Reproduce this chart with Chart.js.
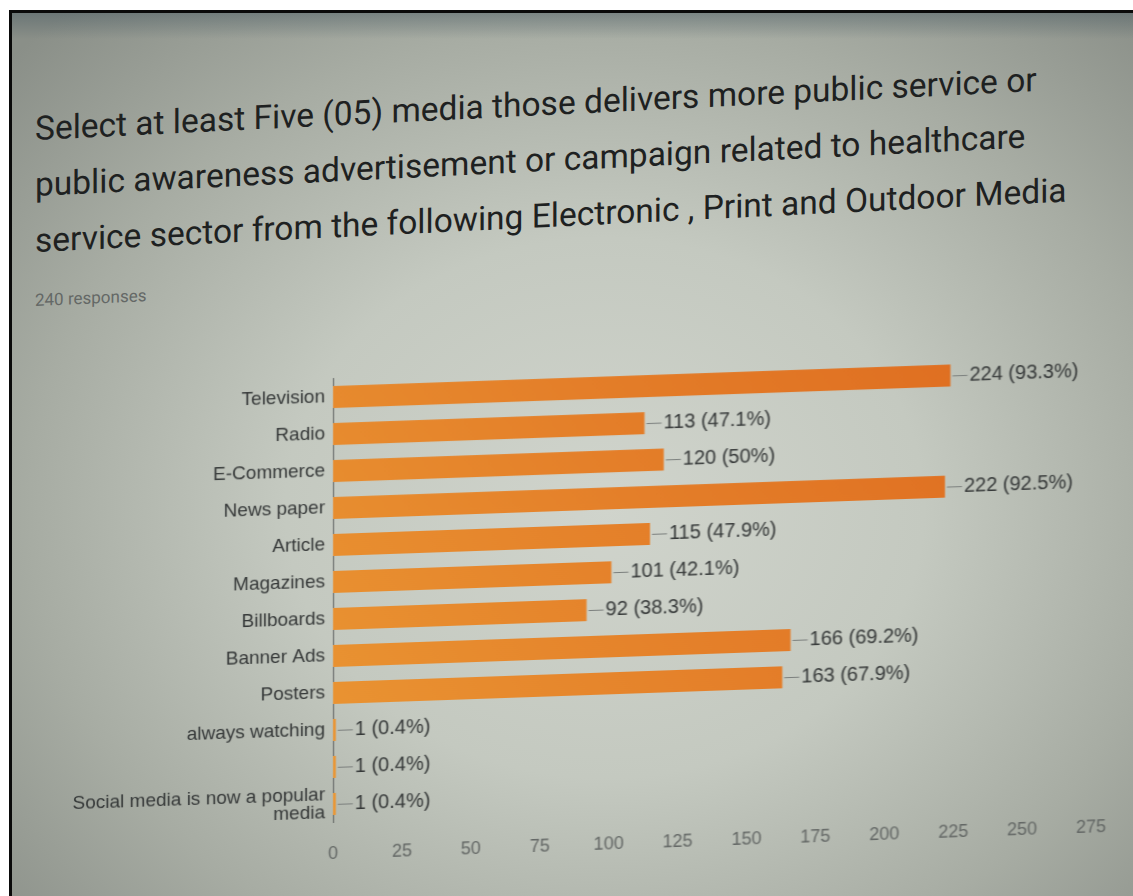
<!DOCTYPE html>
<html>
<head>
<meta charset="utf-8">
<title>Healthcare public service media survey</title>
<script src="https://cdn.jsdelivr.net/npm/chart.js@4.4.1/dist/chart.umd.min.js"></script>
<style>
  html, body { margin: 0; padding: 0; background: #ffffff; }
  body { width: 1133px; height: 896px; position: relative; overflow: hidden; }
  #screen {
    position: absolute; left: 9px; top: 10px; width: 1140px; height: 900px;
    border-top: 3px solid #0a0a0a; border-left: 3px solid #0a0a0a;
    overflow: hidden;
    background:
      linear-gradient(to bottom, rgba(70, 88, 96, 0.45) 0px, rgba(70, 88, 96, 0) 26px),
      radial-gradient(ellipse 70% 75% at 52% 55%, #d0d4cc 0%, #c4c9c0 40%, #a7aca3 72%, #8a8f88 100%);
  }
  #title {
    position: absolute; left: 23px; top: 88px;
    font-family: Roboto, "Liberation Sans", sans-serif;
    font-size: 33.5px; line-height: 56px; color: #1e2121;
    white-space: nowrap;
    transform-origin: 0 0; transform: skewY(-2.8deg);
  }
  #responses {
    position: absolute; left: 23px; top: 277px;
    font-family: Roboto, "Liberation Sans", sans-serif;
    font-size: 17px; line-height: 20px; color: #646866;
    white-space: nowrap;
    transform-origin: 0 0; transform: skewY(-2.5deg);
  }
  #plot {
    position: absolute; left: -12px; top: -13px; width: 1133px; height: 896px;
    transform-origin: 333px 600px; transform: skewY(-2deg);
  }
</style>
</head>
<body>
<div id="screen">
  <div id="title">Select at least Five (05) media those delivers more public service or<br>public awareness advertisement or campaign related to healthcare<br>service sector from the following Electronic , Print and Outdoor Media</div>
  <div id="responses">240 responses</div>
  <div id="plot"><canvas id="chart"></canvas></div>
</div>
<script>
// Survey answers (multiple choice, 240 respondents)
const totalResponses = 240;
const categories = [
  "Television", "Radio", "E-Commerce", "News paper", "Article", "Magazines",
  "Billboards", "Banner Ads", "Posters", "always watching", "",
  ["Social media is now a popular", "media"]
];
const counts = [224, 113, 120, 222, 115, 101, 92, 166, 163, 1, 1, 1];
const axisTicks = [0, 25, 50, 75, 100, 125, 150, 175, 200, 225, 250, 275];

const LABEL_FONT = '"Liberation Sans", Arial, sans-serif';

function pctText(v) {
  const p = (v / totalResponses * 100).toFixed(1).replace(/\.0$/, "");
  return v + " (" + p + "%)";
}

// Value labels with a short leader line after each bar
const valueLabels = {
  id: "valueLabels",
  afterDatasetsDraw(chart) {
    const ctx = chart.ctx;
    const meta = chart.getDatasetMeta(0);
    ctx.save();
    ctx.font = "20px " + LABEL_FONT;
    ctx.textBaseline = "middle";
    ctx.textAlign = "left";
    meta.data.forEach((bar, i) => {
      const x = bar.x, y = bar.y;
      ctx.strokeStyle = "#7b7f7d";
      ctx.lineWidth = 1;
      ctx.beginPath();
      ctx.moveTo(x + 2, y + 0.5);
      ctx.lineTo(x + 17, y + 0.5);
      ctx.stroke();
      ctx.fillStyle = "#353838";
      ctx.fillText(pctText(counts[i]), x + 19, y);
    });
    ctx.restore();
  }
};

function barFill(context) {
  const chart = context.chart;
  const area = chart.chartArea;
  if (!area) return "#e5812c";
  const g = chart.ctx.createLinearGradient(area.right, area.top, area.left, area.bottom);
  g.addColorStop(0, "#de6a1f");
  g.addColorStop(0.5, "#e47e29");
  g.addColorStop(1, "#ea9633");
  return g;
}

new Chart(document.getElementById("chart"), {
  type: "bar",
  data: {
    labels: categories,
    datasets: [{
      data: counts,
      backgroundColor: barFill,
      borderWidth: 0,
      barPercentage: 0.6,
      categoryPercentage: 1.0
    }]
  },
  options: {
    indexAxis: "y",
    responsive: true,
    maintainAspectRatio: false,
    animation: false,
    layout: { padding: { left: 0, right: 42, top: 378.5, bottom: 33.5 } },
    plugins: {
      legend: { display: false },
      tooltip: { enabled: false }
    },
    scales: {
      x: {
        min: axisTicks[0],
        max: axisTicks[axisTicks.length - 1],
        afterBuildTicks(scale) { scale.ticks = axisTicks.map(v => ({ value: v })); },
        afterFit(scale) { scale.height = 40; },
        grid: { display: false, drawTicks: false },
        border: { display: false },
        ticks: {
          padding: 21,
          color: "#636765",
          font: { family: LABEL_FONT, size: 18 }
        }
      },
      y: {
        afterFit(scale) { scale.width = 333; },
        grid: { display: false, drawTicks: false },
        border: { display: true, color: "#5a5e5d", width: 1 },
        ticks: {
          padding: 8,
          color: "#353838",
          autoSkip: false,
          font: { family: LABEL_FONT, size: 19, lineHeight: 0.95 }
        }
      }
    }
  },
  plugins: [valueLabels]
});
</script>
</body>
</html>
